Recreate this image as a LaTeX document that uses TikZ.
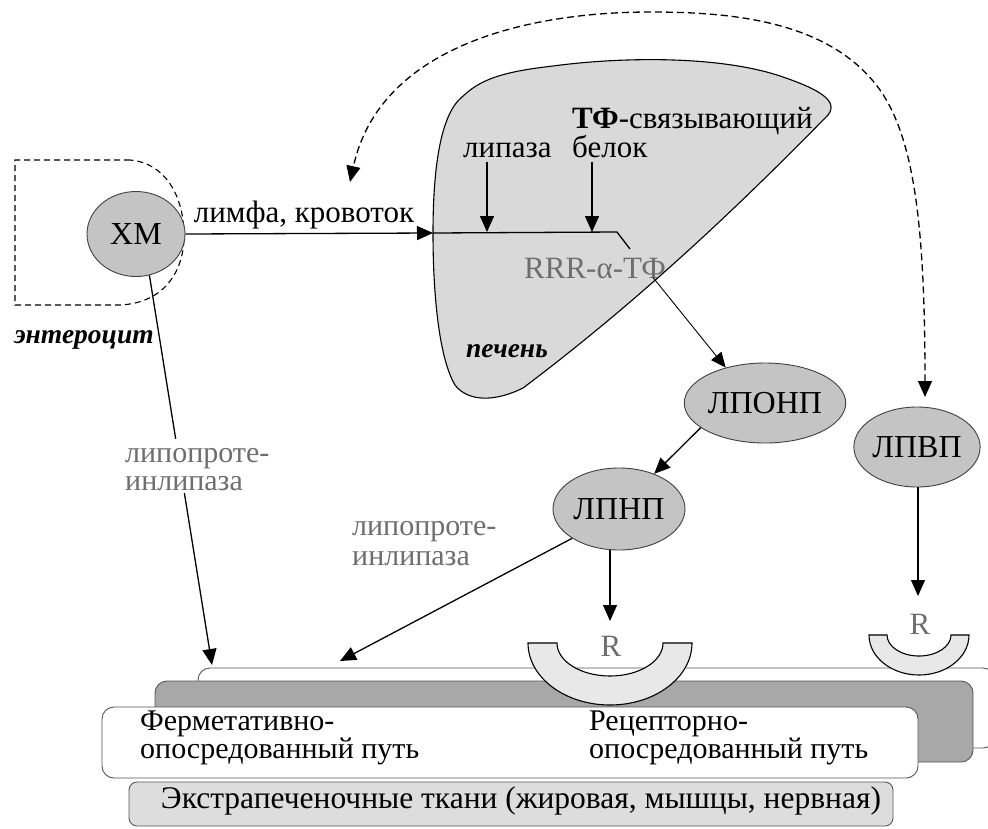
\documentclass[tikz,border=0pt]{standalone}
\usepackage{fontspec}
\setmainfont{Liberation Serif}
\usetikzlibrary{arrows.meta,shapes.geometric}
\setlength{\lineskiplimit}{-30pt}
\definecolor{lpfill}{HTML}{C4C4C4}
\definecolor{liverfill}{HTML}{D9D9D9}
\definecolor{bandgray}{HTML}{A8A8A8}
\definecolor{boxgray}{HTML}{DDDDDD}
\definecolor{cupfill}{HTML}{E8E8E8}
\definecolor{txtgray}{HTML}{6E6E6E}
\definecolor{edgegray}{HTML}{555555}
\begin{document}
\begin{tikzpicture}[x=1pt,y=1pt,
  lp/.style={ellipse, draw=black!75, line width=0.9pt, fill=lpfill, inner sep=0pt, font=\fontsize{32}{35}\selectfont},
  arr/.style={-{Triangle[length=16pt,width=14pt]}, line width=1.3pt},
  tarr/.style={-{Triangle[length=15pt,width=13pt]}, line width=0.9pt},
  lbl/.style={font=\fontsize{31}{34}\selectfont, inner sep=0pt},
  glbl/.style={lbl, text=txtgray},
  itl/.style={font=\fontsize{27.5}{30}\selectfont\bfseries\itshape, inner sep=0pt},
  btwo/.style={font=\fontsize{30}{28.5}\selectfont, align=left, inner sep=0pt, anchor=north west},
  gtwo/.style={text=txtgray, align=left, anchor=north west},
  plate/.style={draw=edgegray, line width=0.9pt, rounded corners=12pt},
  cup/.style={draw=black, line width=1.1pt, fill=cupfill},
  dasharc/.style={dashed, dash pattern=on 7pt off 4pt, line width=1.3pt,
     {Triangle[length=16pt,width=14pt]}-{Triangle[length=16pt,width=14pt]}}]
\useasboundingbox (0,0) rectangle (988,-828);
\fill[white] (0,0) rectangle (988,-828);

% ---------- bottom tissue layers ----------
\draw[plate, fill=white] (198,-668) rectangle (995,-748);
\draw[plate, fill=bandgray] (155,-681) rectangle (973,-762);
\draw[plate, fill=white] (102,-707) rectangle (918,-778);
\draw[plate, fill=boxgray, rounded corners=8pt] (129,-782) rectangle (893,-826);

\node[btwo] (ferm) at (140,-708) {\rule{0pt}{22pt}Ферметативно-\\опосредованный путь};
\node[btwo] (rec) at (589,-708) {\rule{0pt}{22pt}Рецепторно-\\опосредованный путь};
\node[inner sep=0pt, anchor=base, font=\fontsize{31.5}{34}\selectfont] (tissue) at (521,-808) {Экстрапеченочные ткани (жировая, мышцы, нервная)};

% ---------- receptors ----------
\draw[cup] (528,-643) -- (557,-643) arc[start angle=180, end angle=360, x radius=53pt, y radius=33pt]
  -- (692,-643) arc[start angle=0, end angle=-180, x radius=82pt, y radius=62pt] -- cycle;
\draw[cup] (869,-635) -- (887,-635) arc[start angle=180, end angle=360, x radius=32pt, y radius=21pt]
  -- (969,-635) arc[start angle=0, end angle=-180, x radius=50pt, y radius=40pt] -- cycle;
\node[glbl, anchor=base] (R1) at (611,-656) {R};
\node[glbl, anchor=base] (R2) at (920,-634) {R};

% ---------- enterocyte ----------
\draw[dashed, dash pattern=on 6pt off 4pt, line width=1.1pt]
  (130,-160) -- (15,-160) -- (15,-305) -- (120,-305)
  .. controls (165,-303) and (185,-270) .. (184,-233)
  .. controls (183,-195) and (165,-163) .. (130,-160);
\node[lp, minimum width=98pt, minimum height=85pt] (XM) at (136,-234) {ХМ};
\node[itl, anchor=base] (ent) at (84,-343) {энтероцит};

% ---------- liver ----------
\draw[line width=1.1pt, fill=liverfill]
  (433,-233) .. controls (433,-170) and (440,-115) .. (462,-97)
  .. controls (480,-80) and (500,-72) .. (553,-66)
  .. controls (620,-57) and (720,-55) .. (783,-77)
  .. controls (815,-88) and (840,-100) .. (828,-115)
  .. controls (740,-205) and (640,-300) .. (523,-388)
  .. controls (495,-402) and (468,-402) .. (455,-385)
  .. controls (440,-360) and (433,-300) .. (433,-233);
\coordinate (liverL) at (433,-233);
\coordinate (j1) at (487,-232);
\coordinate (j2) at (592,-232);
\coordinate (bend) at (617,-232);
\coordinate (bendEnd) at (630,-249);
\node[lbl, anchor=base west] (lip) at (463,-157) {липаза};
\node[lbl, anchor=base west] (tf1) at (572,-128) {\textbf{ТФ}-связывающий};
\node[lbl, anchor=base west] (tf2) at (572,-157) {белок};
\node[glbl, anchor=base] (rrr) at (595,-278) {RRR-α-ТФ};
\node[itl, anchor=base] (pech) at (507,-357) {печень};

\draw[arr] (j1 |- lip.south) ++(0,-4) -- (j1);
\draw[arr] (j2 |- tf2.south) ++(0,-4) -- (j2);
\draw[line width=1.3pt] (liverL) -- (bend) -- (bendEnd);

% ---------- lipoproteins ----------
\node[lp, minimum width=140pt, minimum height=80pt] (LPONP) at (765,-403) {ЛПОНП};
\node[lp, minimum width=132pt, minimum height=82pt] (LPNP) at (619,-509) {ЛПНП};
\node[lp, minimum width=118pt, minimum height=80pt] (LPVP) at (917,-447) {ЛПВП};

% ---------- connectors ----------
\draw[arr] (XM.east) -- (liverL);
\node[lbl, anchor=base] (lymph) at (304,-222) {лимфа, кровоток};

\draw[tarr] ([xshift=-13pt,yshift=1pt]rrr.south east) -- (LPONP.138);
\draw[arr] (LPONP.201) -- (LPNP.45);

\coordinate (t1) at (212,-665);
\coordinate (t2) at (340,-661);
\coordinate (r1top) at (610,-621);
\coordinate (r2top) at (918,-596);
\draw[arr] (XM.-72) -- (t1);
\draw[arr] (LPNP.212) -- (t2);
\draw[arr] (r1top |- LPNP.south) -- (r1top);
\draw[arr] (r2top |- LPVP.south) -- (r2top);

\node[gtwo, fill=white, inner sep=2pt, font=\fontsize{30}{28}\selectfont] (lpl1) at (123,-439) {\rule{0pt}{21pt}липопроте-\\инлипаза};
\node[gtwo, inner sep=0pt, font=\fontsize{30}{30}\selectfont] (lpl2) at (352,-514) {\rule{0pt}{21pt}липопроте-\\инлипаза};

% ---------- dashed HDL return ----------
\coordinate (dR) at (925,-397);
\coordinate (dL) at (350,-182);
\draw[dasharc] (dR) .. controls (925,-230) and (915,-140) .. (880,-90)
  .. controls (830,-20) and (730,-12) .. (650,-12)
  .. controls (530,-12) and (380,-45) .. (dL);
\end{tikzpicture}
\end{document}
